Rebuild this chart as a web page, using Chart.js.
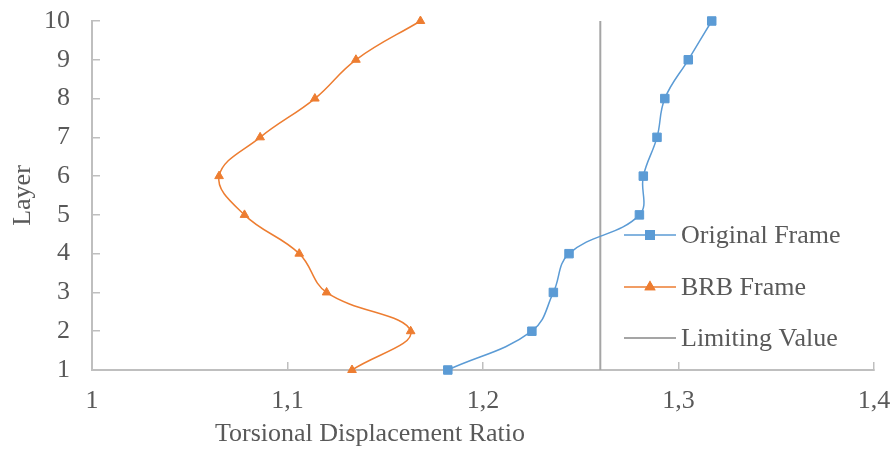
<!DOCTYPE html>
<html>
<head>
<meta charset="utf-8">
<script src="https://cdn.jsdelivr.net/npm/chart.js@4/dist/chart.umd.min.js"></script>
<style>
  body { margin: 0; background: #fff; }
  #wrap { width: 893px; height: 450px; position: relative; }
</style>
</head>
<body>
<div id="wrap"><canvas id="chart"></canvas></div>
<script>
// data
const layers = [1, 2, 3, 4, 5, 6, 7, 8, 9, 10];
const originalFrame = [1.182, 1.225, 1.236, 1.244, 1.280, 1.282, 1.289, 1.293, 1.305, 1.317];
const brbFrame = [1.133, 1.163, 1.120, 1.106, 1.078, 1.065, 1.086, 1.114, 1.135, 1.168];
const limitingValue = 1.26;
const limitLayers = [1, 10];

const xTicks = [1, 1.1, 1.2, 1.3, 1.4];
const xTickLabels = ["1", "1,1", "1,2", "1,3", "1,4"];
const yTicks = [1, 2, 3, 4, 5, 6, 7, 8, 9, 10];
const yTickLabels = ["1", "2", "3", "4", "5", "6", "7", "8", "9", "10"];

const seriesNames = ["Original Frame", "BRB Frame", "Limiting Value"];
const xTitle = "Torsional Displacement Ratio";
const yTitle = "Layer";

const textColor = "#595959";
const axisColor = "#BFBFBF";
const fontFamily = "'Liberation Serif', 'Times New Roman', serif";

const toPoints = (xs, ys) => xs.map((x, i) => ({ x: x, y: ys[i] }));

// legend + x title drawn on top, Excel style
const overlay = {
  id: "overlay",
  afterDraw(chart) {
    const ctx = chart.ctx;
    ctx.save();
    ctx.font = "26px " + fontFamily;
    ctx.fillStyle = textColor;
    ctx.textBaseline = "middle";

    ctx.textAlign = "center";
    ctx.fillText(xTitle, 370, 434);

    ctx.textAlign = "left";
    const rows = [235, 287, 338];
    chart.data.datasets.forEach((ds, i) => {
      const y = rows[i];
      ctx.strokeStyle = ds.borderColor;
      ctx.lineWidth = ds.borderWidth;
      ctx.beginPath();
      ctx.moveTo(624, y);
      ctx.lineTo(676, y);
      ctx.stroke();
      if (ds.pointRadius > 0) {
        Chart.helpers.drawPoint(ctx, {
          pointStyle: ds.pointStyle,
          radius: ds.pointRadius,
          rotation: 0,
          borderWidth: 1
        }, 650, y);
        ctx.fillStyle = ds.pointBackgroundColor;
        ctx.strokeStyle = ds.pointBorderColor;
        ctx.fill();
        ctx.stroke();
      }
      ctx.fillStyle = textColor;
      ctx.fillText(ds.label, 681, y + 1);
    });
    ctx.restore();
  }
};

new Chart(document.getElementById("chart"), {
  type: "scatter",
  data: {
    datasets: [
      {
        label: seriesNames[0],
        data: toPoints(originalFrame, layers),
        showLine: true,
        clip: false,
        borderColor: "#5B9BD5",
        borderWidth: 1.5,
        tension: 0.4,
        pointStyle: "rect",
        pointRadius: 6,
        pointBackgroundColor: "#5B9BD5",
        pointBorderColor: "#5B9BD5",
        pointBorderWidth: 1
      },
      {
        label: seriesNames[1],
        data: toPoints(brbFrame, layers),
        showLine: true,
        clip: false,
        borderColor: "#ED7D31",
        borderWidth: 1.5,
        tension: 0.4,
        pointStyle: "triangle",
        pointRadius: 5,
        pointBackgroundColor: "#ED7D31",
        pointBorderColor: "#ED7D31",
        pointBorderWidth: 1
      },
      {
        label: seriesNames[2],
        data: limitLayers.map((l) => ({ x: limitingValue, y: l })),
        showLine: true,
        clip: false,
        borderColor: "#A5A5A5",
        borderWidth: 2,
        tension: 0,
        pointRadius: 0
      }
    ]
  },
  options: {
    responsive: true,
    maintainAspectRatio: false,
    animation: false,
    devicePixelRatio: 1,
    layout: { padding: { top: 21, right: 19, left: 0, bottom: 0 } },
    plugins: {
      legend: { display: false },
      tooltip: { enabled: false }
    },
    scales: {
      x: {
        type: "linear",
        position: "bottom",
        min: 1,
        max: 1.4,
        afterBuildTicks: (scale) => {
          scale.ticks = xTicks.map((v) => ({ value: v }));
        },
        afterFit: (scale) => {
          scale.height = 80;
          scale.paddingLeft = 0;
          scale.paddingRight = 0;
        },
        ticks: {
          color: textColor,
          font: { family: fontFamily, size: 26 },
          padding: 24,
          maxRotation: 0,
          callback: (v, i) => xTickLabels[i]
        },
        grid: {
          drawOnChartArea: false,
          color: axisColor,
          lineWidth: 1.5,
          tickLength: -8
        },
        border: { color: axisColor, width: 2 }
      },
      y: {
        type: "linear",
        position: "left",
        min: 1,
        max: 10,
        afterBuildTicks: (scale) => {
          scale.ticks = yTicks.map((v) => ({ value: v }));
        },
        afterFit: (scale) => {
          scale.width = 92;
          scale.paddingTop = 0;
          scale.paddingBottom = 0;
        },
        ticks: {
          color: textColor,
          font: { family: fontFamily, size: 26 },
          padding: 30,
          callback: (v, i) => yTickLabels[i]
        },
        grid: {
          drawOnChartArea: false,
          color: axisColor,
          lineWidth: 1.5,
          tickLength: -8
        },
        border: { color: axisColor, width: 2 },
        title: {
          display: true,
          text: yTitle,
          color: textColor,
          font: { family: fontFamily, size: 26 },
          padding: { top: 8, bottom: 0 }
        }
      }
    }
  },
  plugins: [overlay]
});
</script>
</body>
</html>
